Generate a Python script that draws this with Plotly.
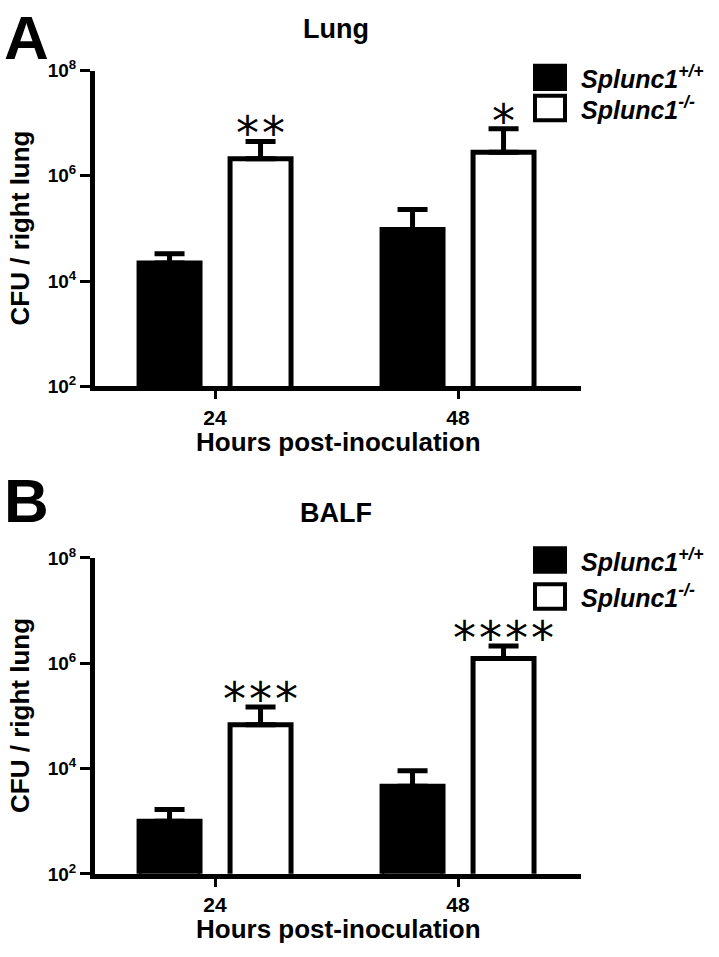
import numpy as np
import plotly.graph_objects as go

# values (CFU, log axis); error = upper SEM only
hours = ["24", "48"]
lung_wt = [2.2e4, 9.6e4]
lung_wt_err = [1.1e4, 1.34e5]
lung_ko = [2.1e6, 2.8e6]
lung_ko_err = [2.4e6, 5.0e6]
balf_wt = [1.0e3, 4.6e3]
balf_wt_err = [0.66e3, 4.5e3]
balf_ko = [6.8e4, 1.23e6]
balf_ko_err = [8.0e4, 0.91e6]
lung_stars = [2, 1]
balf_stars = [3, 4]

W, H = 719, 957
FONT = "Liberation Sans"
BARGAP, GROUPGAP = 0.251, 0.33

def px(y):
    # page pixel row -> paper fraction
    return 1 - y / H

fig = go.Figure()

panels = [
    ("x", "y", lung_wt, lung_wt_err, lung_ko, lung_ko_err, lung_stars),
    ("x2", "y2", balf_wt, balf_wt_err, balf_ko, balf_ko_err, balf_stars),
]
for xa, ya, wt, wt_err, ko, ko_err, stars in panels:
    fig.add_trace(go.Bar(
        x=hours, y=wt, xaxis=xa, yaxis=ya, name="Splunc1+/+",
        marker=dict(color="black", line=dict(color="black", width=5)),
        error_y=dict(type="data", array=wt_err, arrayminus=[0, 0], symmetric=False,
                     color="black", thickness=5, width=15),
        showlegend=False,
    ))
    fig.add_trace(go.Bar(
        x=hours, y=ko, xaxis=xa, yaxis=ya, name="Splunc1-/-",
        marker=dict(color="white", line=dict(color="black", width=5)),
        error_y=dict(type="data", array=ko_err, arrayminus=[0, 0], symmetric=False,
                     color="black", thickness=5, width=15),
        showlegend=False,
    ))
    # significance stars above the knockout bars
    off = (1 - BARGAP) / 4
    for i, n in enumerate(stars):
        top = np.log10(ko[i] + ko_err[i])
        for j in range(n):
            fig.add_annotation(
                x=i + off, y=top, xref=xa, yref=ya, text="*",
                showarrow=False, yanchor="bottom", yshift=-21,
                xshift=(j - (n - 1) / 2) * 26,
                font=dict(family="DejaVu Sans", size=46, color="black"),
            )

xdom = [95 / W, 581 / W]

xax = dict(
    type="category", range=[-0.494, 1.506], showline=True, linewidth=5, linecolor="black",
    ticks="outside", ticklen=8, tickwidth=3, tickcolor="black", showgrid=False,
    tickfont=dict(family=FONT, size=21, color="black", weight="bold"),
)
yax = dict(
    type="log", range=[2, 8], showline=True, linewidth=5, linecolor="black",
    ticks="outside", ticklen=10, tickwidth=3, tickcolor="black", showgrid=False,
    tickvals=[1e2, 1e4, 1e6, 1e8],
    ticktext=["10<sup>2</sup>", "10<sup>4</sup>", "10<sup>6</sup>", "10<sup>8</sup>"],
    tickfont=dict(family=FONT, size=19, color="black", weight="bold"),
)

fig.update_layout(
    width=W, height=H, margin=dict(l=0, r=0, t=0, b=0),
    paper_bgcolor="white", plot_bgcolor="white",
    barmode="group", bargap=BARGAP, bargroupgap=GROUPGAP,
    xaxis=dict(xax, domain=xdom, anchor="y"),
    yaxis=dict(yax, domain=[px(383), px(59)], anchor="x"),
    xaxis2=dict(xax, domain=xdom, anchor="y2"),
    yaxis2=dict(yax, domain=[px(883), px(559)], anchor="x2"),
)

bold = lambda s: dict(family=FONT, size=s, color="black", weight="bold")

# panel letters, titles, axis titles
for letter, title, yl, yt, ymid, yx in [("A", "Lung", 25, 16, 221, 440),
                                        ("B", "BALF", 500, 513, 721, 940)]:
    fig.add_annotation(x=2 / W, y=px(yl), xref="paper", yref="paper", text=letter,
                       showarrow=False, xanchor="left", yanchor="middle", font=bold(62))
    fig.add_annotation(x=336 / W, y=px(yt), xref="paper", yref="paper", text=title,
                       showarrow=False, xanchor="center", yanchor="middle", font=bold(27))
    fig.add_annotation(x=338 / W, y=px(yx), xref="paper", yref="paper",
                       text="Hours post-inoculation", showarrow=False,
                       xanchor="center", yanchor="middle", font=bold(26))
    fig.add_annotation(x=20 / W, y=px(ymid), xref="paper", yref="paper",
                       text="CFU / right lung", textangle=-90, showarrow=False,
                       xanchor="center", yanchor="middle", font=bold(26))

# legend drawn as swatches + labels
labels = ["<i>Splunc1<sup>+/+</sup></i>", "<i>Splunc1<sup>-/-</sup></i>"]
fills = ["black", "white"]
for rows in [[(54, 78), (85, 110)], [(549, 573), (586, 611)]]:
    for k, (y0, y1) in enumerate(rows):
        fig.add_shape(type="rect", xref="paper", yref="paper",
                      x0=535 / W, x1=565 / W, y0=px(y1), y1=px(y0),
                      fillcolor=fills[k], line=dict(color="black", width=4))
        fig.add_annotation(x=579 / W, y=px((y0 + y1) / 2), xref="paper", yref="paper",
                           text=labels[k], showarrow=False, xanchor="left", yanchor="middle",
                           font=bold(25))

# page body margin would offset the 719x957 figure inside the window
fig.write_html("out.html", config={"displayModeBar": False},
               post_script="document.body.style.margin='0';")
